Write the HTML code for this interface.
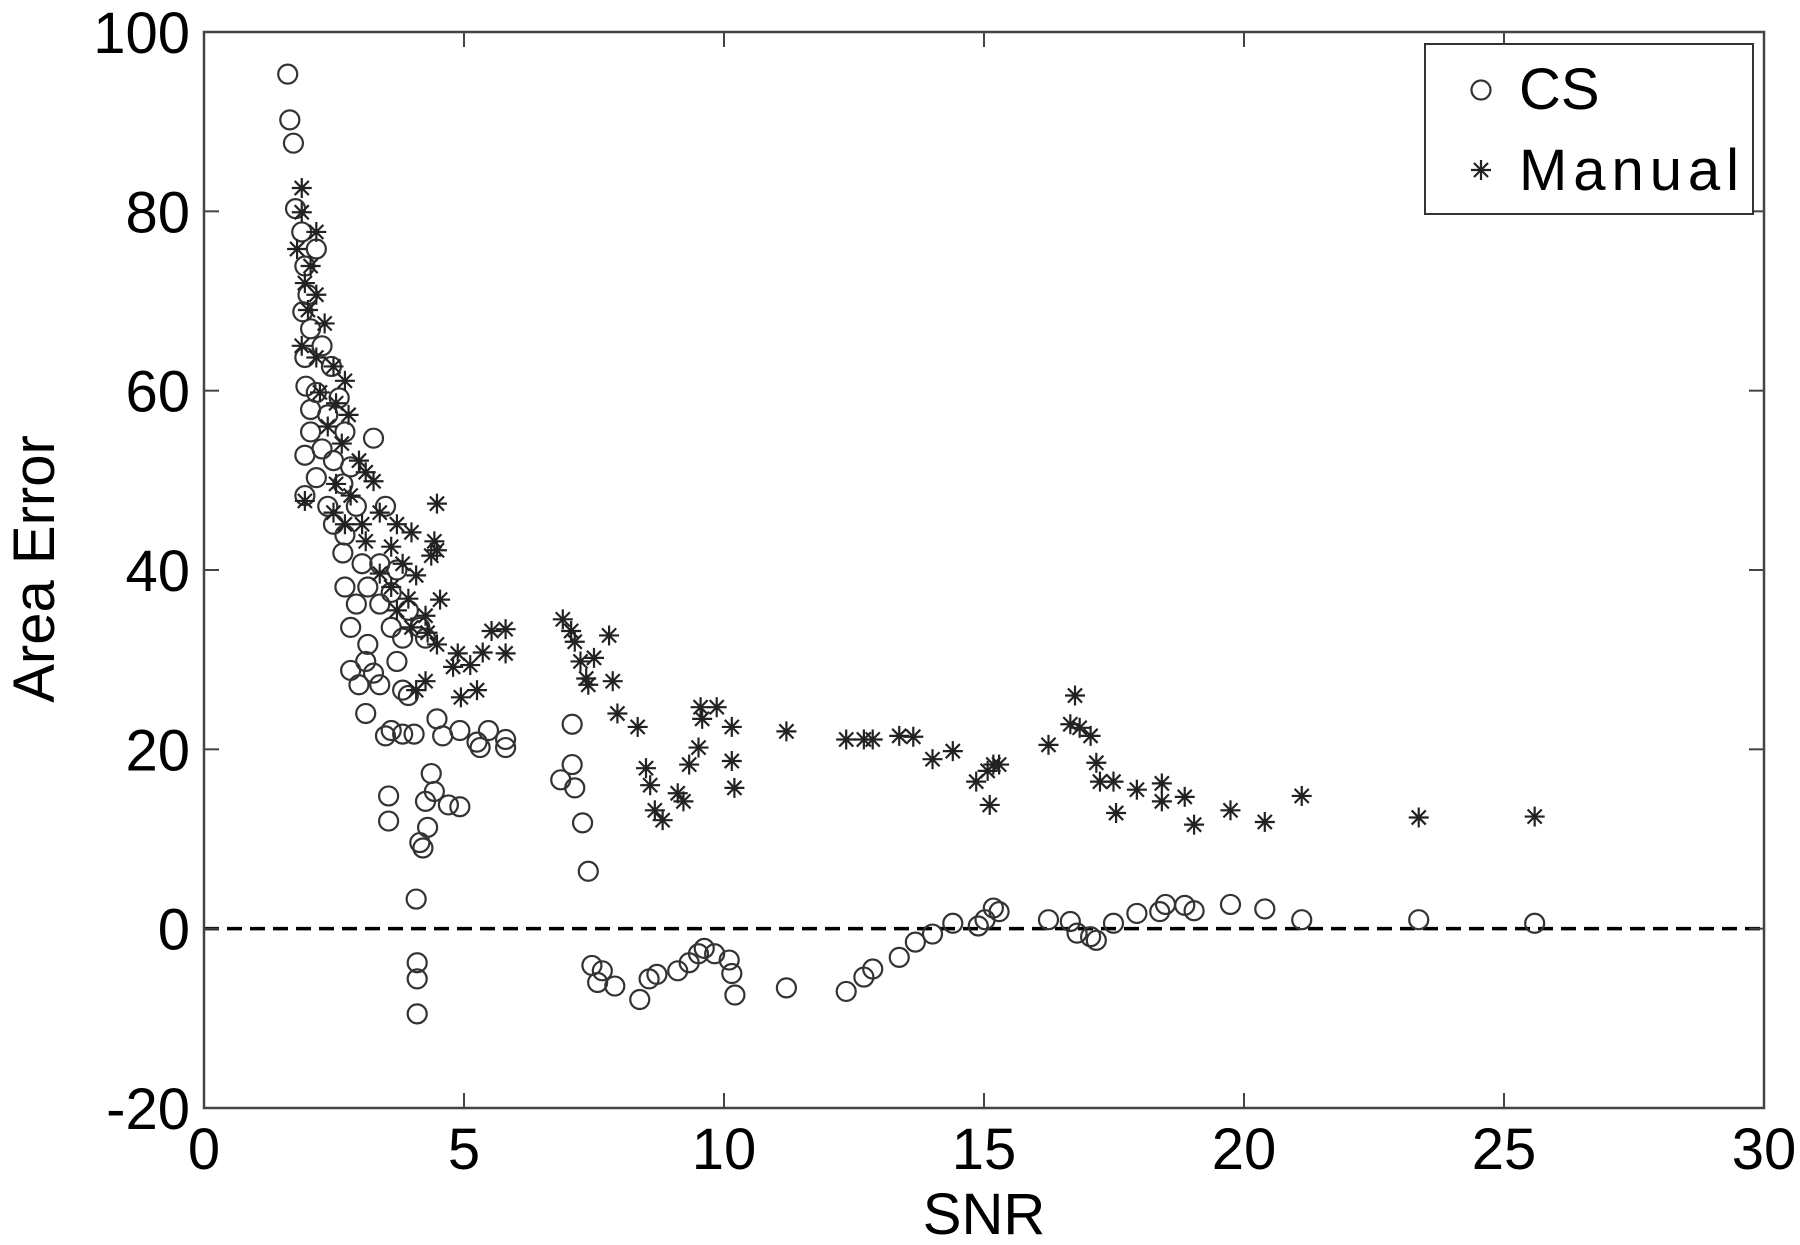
<!DOCTYPE html>
<html><head><meta charset="utf-8"><style>
html,body{margin:0;padding:0;background:#fff;}
svg{display:block;font-family:"Liberation Sans",Arial,sans-serif;}
</style></head><body>
<svg id="chart" width="1800" height="1245" viewBox="0 0 1800 1245" xmlns="http://www.w3.org/2000/svg">
<rect x="0" y="0" width="1800" height="1245" fill="#fff"/>
<g id="marks"></g>
<g id="axes"></g>
</svg>
<script>
const xTicks = [0,5,10,15,20,25,30];
const yTicks = [-20,0,20,40,60,80,100];
const csX = [1.61,1.65,1.72,1.76,1.88,2.16,1.94,2.0,1.9,2.05,2.27,1.94,2.45,1.96,2.16,2.6,2.05,2.38,2.05,2.71,2.27,1.94,2.49,2.82,2.16,2.67,1.94,2.38,2.93,2.49,2.71,2.67,3.26,3.49,3.04,3.38,3.71,2.71,3.15,3.6,2.93,3.38,3.93,2.82,3.6,4.15,3.15,3.82,4.26,3.11,3.71,2.82,3.26,2.98,3.38,3.82,3.93,3.11,3.6,3.49,3.82,4.04,4.48,4.59,4.92,5.25,5.47,5.31,5.8,5.8,3.55,3.55,4.37,4.43,4.26,4.3,4.15,4.21,4.7,4.92,4.08,4.1,4.1,4.1,7.08,7.08,6.86,7.13,7.28,7.39,7.46,7.57,7.9,7.66,8.38,8.56,8.71,9.11,9.33,9.51,9.62,9.82,10.1,10.15,10.21,11.2,12.35,12.69,12.86,13.37,13.68,14.01,14.4,14.89,15.02,15.18,15.29,16.24,16.66,16.79,17.05,17.16,17.49,17.94,18.38,18.49,18.86,19.04,19.74,20.4,21.11,23.36,25.59];
const csY = [95.3,90.2,87.6,80.3,77.7,75.8,73.9,70.7,68.8,66.9,65,63.7,62.7,60.5,59.8,59.2,57.9,57.3,55.4,55.4,53.5,52.8,52.2,51.5,50.3,49.6,48.3,47.1,47.1,45.1,43.9,41.9,54.7,47.1,40.7,40.7,40,38.1,38.1,37.5,36.2,36.2,35.5,33.6,33.6,33.6,31.7,32.4,32.4,29.8,29.8,28.8,28.5,27.2,27.2,26.6,26,24,22.1,21.5,21.7,21.7,23.4,21.5,22.1,20.8,22.1,20.2,20.2,21.1,14.8,12,17.3,15.3,14.2,11.3,9.6,9,13.8,13.6,3.3,-3.8,-5.6,-9.5,22.8,18.3,16.6,15.7,11.8,6.4,-4.1,-6,-6.4,-4.7,-7.9,-5.6,-5.1,-4.7,-3.8,-2.8,-2.2,-2.8,-3.5,-5,-7.4,-6.6,-7,-5.4,-4.5,-3.2,-1.5,-0.6,0.6,0.3,1,2.3,1.9,1,0.8,-0.5,-0.9,-1.3,0.6,1.7,1.9,2.7,2.6,2,2.7,2.2,1,1,0.6];
const manX = [1.88,1.88,2.16,1.79,2.05,1.94,2.16,2.0,2.32,1.88,2.16,2.49,2.71,2.23,2.54,2.78,2.38,2.65,2.98,3.11,3.26,2.54,2.82,1.94,2.49,2.71,3.04,3.38,3.71,3.99,4.48,4.43,4.37,4.48,3.6,3.11,3.82,3.38,4.08,3.6,3.93,4.54,3.71,4.26,3.99,4.3,4.48,4.88,5.36,5.53,5.8,5.8,4.79,5.12,4.94,5.25,4.08,4.26,6.9,7.06,7.13,7.24,7.35,7.39,7.5,7.79,7.86,7.95,8.34,8.5,8.58,8.67,8.82,9.11,9.22,9.33,9.51,9.55,9.58,9.86,10.15,10.15,10.2,11.2,12.35,12.69,12.86,13.37,13.64,14.01,14.4,14.85,15.07,15.18,15.29,15.11,16.24,16.75,16.66,16.84,17.05,17.16,17.23,17.49,17.54,17.94,18.42,18.42,18.86,19.04,19.74,20.4,21.11,23.36,25.59];
const manY = [82.6,79.9,77.7,75.8,73.9,72,70.7,69,67.5,65,63.7,62.7,61.1,59.8,58.6,57.3,56,54.1,52.2,50.9,49.9,49.6,48.3,47.7,46.4,45.1,45.1,46.4,45.1,44.2,47.4,43.2,41.6,42.2,42.6,43.2,40.7,39.6,39.4,38.1,36.8,36.7,35.5,34.9,33.6,33,31.7,30.7,30.8,33.2,33.4,30.7,29.2,29.4,25.8,26.6,26.6,27.6,34.5,33.2,32,29.8,27.9,27.2,30.2,32.7,27.6,24,22.5,17.9,16,13.2,12.1,15.1,14.2,18.3,20.2,24.7,23.4,24.7,22.5,18.7,15.7,22,21.1,21.1,21.1,21.5,21.4,18.9,19.8,16.4,17.6,18.3,18.3,13.8,20.5,26,22.8,22.4,21.5,18.5,16.4,16.4,12.9,15.5,16.2,14.2,14.7,11.6,13.2,11.9,14.8,12.4,12.5];

const L=204,R=1764,T=32,B=1108;
const sx=v=>L+(v-0)/(30-0)*(R-L);
const sy=v=>B-(v+20)/(120)*(B-T);
const NS="http://www.w3.org/2000/svg";
const marks=document.getElementById('marks'), axes=document.getElementById('axes');
function mk(tag,attrs,parent){const e=document.createElementNS(NS,tag);for(const k in attrs)e.setAttribute(k,attrs[k]);parent.appendChild(e);return e;}
function star(cx,cy,parent,r){
  const g=mk('g',{stroke:'#222','stroke-width':2.2},parent);
  const d=r*0.707;
  mk('line',{x1:cx-r,y1:cy,x2:cx+r,y2:cy},g);
  mk('line',{x1:cx,y1:cy-r,x2:cx,y2:cy+r},g);
  mk('line',{x1:cx-d,y1:cy-d,x2:cx+d,y2:cy+d},g);
  mk('line',{x1:cx-d,y1:cy+d,x2:cx+d,y2:cy-d},g);
  return g;
}
// zero dashed line
const zl=mk('line',{x1:L,y1:sy(0),x2:R,y2:sy(0),stroke:'#000','stroke-width':3.5,'stroke-dasharray':'15 8'},marks);


// CS circles
for(let i=0;i<csX.length;i++){
  const c=mk('circle',{cx:sx(csX[i]),cy:sy(csY[i]),r:9.5,fill:'none',stroke:'#333','stroke-width':2.2},marks);
  
  
}
// Manual stars
for(let i=0;i<manX.length;i++){
  const g=star(sx(manX[i]),sy(manY[i]),marks,10);
  
  
}
// box
const box=mk('rect',{x:L,y:T,width:R-L,height:B-T,fill:'none',stroke:'#444','stroke-width':2.5},axes);


// ticks
for(const t of xTicks){
  const x=sx(t);
  if(t>0&&t<30){
    mk('line',{x1:x,y1:B,x2:x,y2:B-15,stroke:'#444','stroke-width':2},axes);
    mk('line',{x1:x,y1:T,x2:x,y2:T+15,stroke:'#444','stroke-width':2},axes);
  }
  const tx=mk('text',{x:x,y:1169,'font-size':58,'text-anchor':'middle',fill:'#000'},axes);
  tx.textContent=t;
  
  
}
for(const t of yTicks){
  const y=sy(t);
  if(t>-20&&t<100){
    mk('line',{x1:L,y1:y,x2:L+15,y2:y,stroke:'#444','stroke-width':2},axes);
    mk('line',{x1:R,y1:y,x2:R-15,y2:y,stroke:'#444','stroke-width':2},axes);
  }
  const tx=mk('text',{x:190,y:y+21,'font-size':58,'text-anchor':'end',fill:'#000'},axes);
  tx.textContent=t;
  
  
}
</script>
<svg style="position:absolute;left:0;top:0" width="1800" height="1245">
<text x="984" y="1234" font-size="58" text-anchor="middle" font-family="Liberation Sans, sans-serif">SNR</text>
<text x="0" y="0" font-size="58" text-anchor="middle" font-family="Liberation Sans, sans-serif" transform="translate(54,569) rotate(-90)">Area Error</text>
<g>
<rect x="1425" y="44" width="328" height="170" fill="#fff" stroke="#333" stroke-width="2"/>
<g>
<circle cx="1481" cy="90" r="9.5" fill="none" stroke="#333" stroke-width="2.2"/>
<text x="1519" y="109" font-size="58" font-family="Liberation Sans, sans-serif">CS</text>
</g>
<g stroke="#222" stroke-width="2.2">
<line x1="1471" y1="170" x2="1491" y2="170"/><line x1="1481" y1="160" x2="1481" y2="180"/>
<line x1="1474" y1="163" x2="1488" y2="177"/><line x1="1474" y1="177" x2="1488" y2="163"/>
<text x="1519" y="190" font-size="58" stroke="none" textLength="220" font-family="Liberation Sans, sans-serif">Manual</text>
</g>
</g>
</svg>
</body></html>
